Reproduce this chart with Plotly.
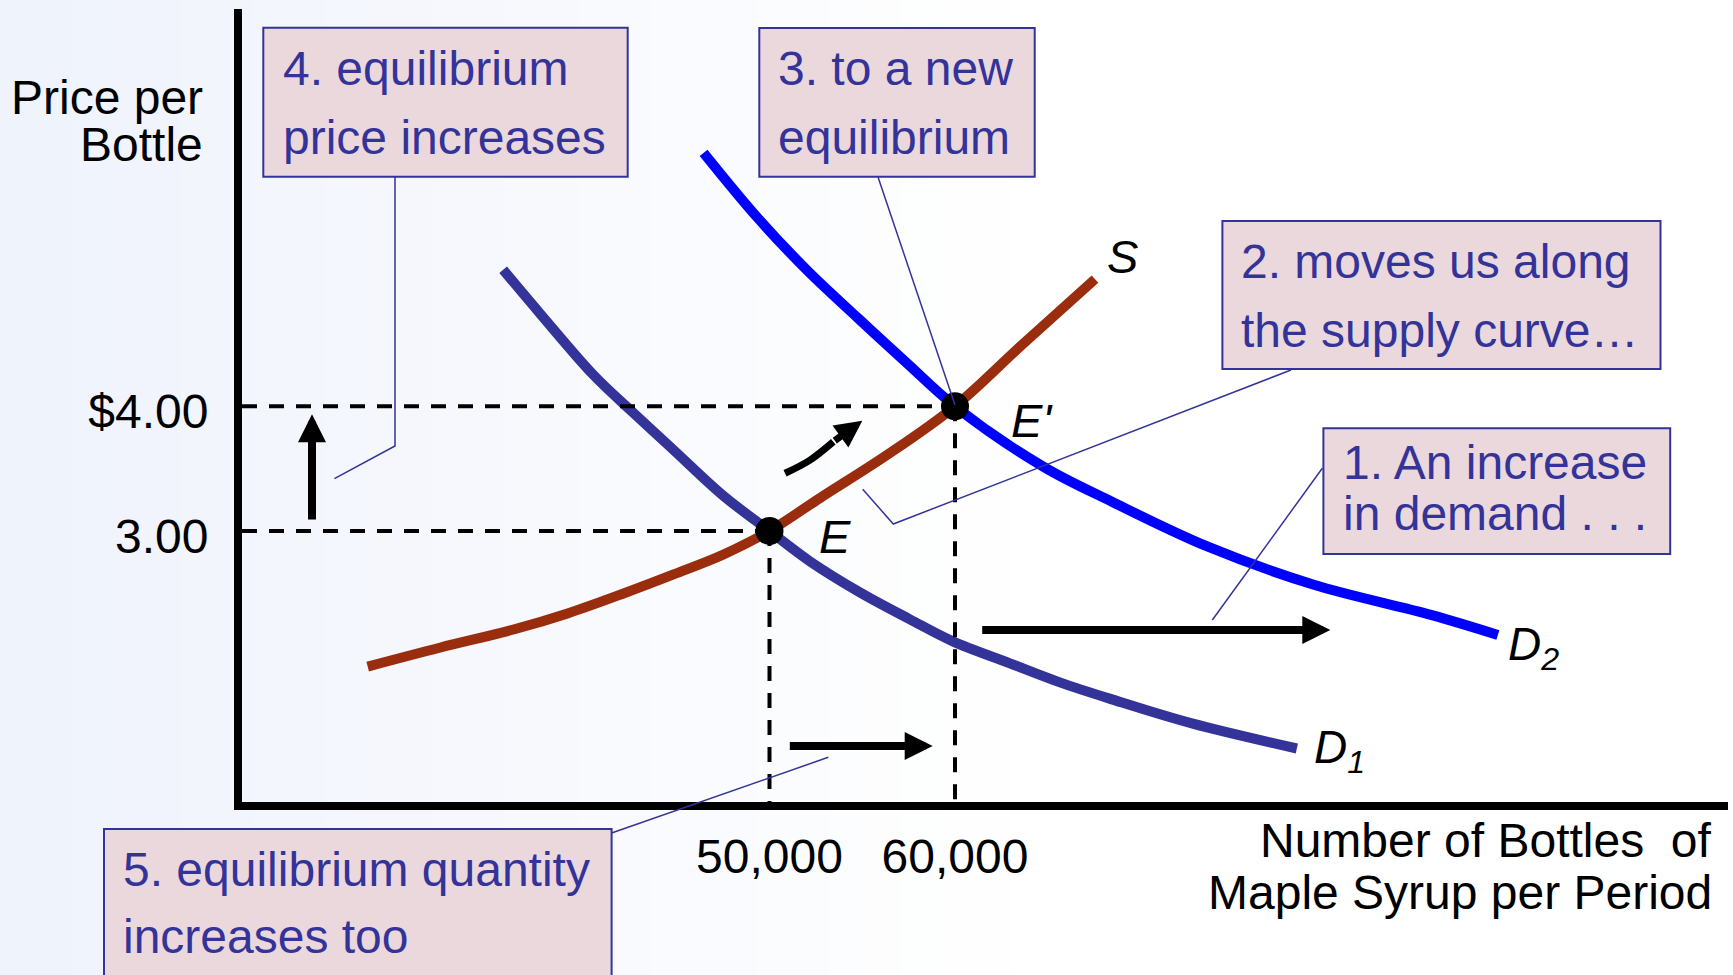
import plotly.graph_objects as go

FONT = "Liberation Sans, Arial, sans-serif"
NAVY = "#333399"

# ---- data: quantity (bottles per period) and price ($ per bottle) ----
s_qty = [28338, 32264, 36199, 39110, 42129, 44825, 47520, 50000, 52728, 56340, 60000, 63654, 67548]
s_price = [1.913, 2.066, 2.210, 2.339, 2.499, 2.652, 2.812, 3.000, 3.265, 3.610, 4.000, 4.499, 5.020]

d1_qty = [35641, 37636, 40493, 42649, 44806, 47502, 50000, 52177, 54872, 57568,
          59886, 62958, 65653, 68457, 72770, 78430]
d1_price = [5.095, 4.743, 4.254, 3.949, 3.653, 3.284, 3.000, 2.757, 2.508, 2.292,
            2.115, 1.939, 1.786, 1.650, 1.457, 1.256]

d2_qty = [46446, 49357, 52052, 54748, 57443, 60000, 64756, 68457, 73633, 79347, 85655, 89267]
d2_price = [6.033, 5.512, 5.087, 4.710, 4.341, 4.000, 3.516, 3.235, 2.874, 2.569, 2.328, 2.167]

eq_qty = [50000, 60000]
eq_price = [3.00, 4.00]
eq_names = ["E", "E'"]

qty_ticks = [50000, 60000]
qty_tick_text = ["50,000", "60,000"]
price_ticks = [3.00, 4.00]
price_tick_text = ["3.00", "$4.00"]

# straight shift arrows: (tail qty, tail price, tip qty, tip price)
arrows = [
    (25336, 3.080, 25336, 3.936),   # price rises
    (61386, 2.206, 80233, 2.206),   # demand shifts right
    (51014, 1.276, 58798, 1.276),   # quantity rises
]
# curved arrow moving along the supply curve
along_qty = [50836, 52183, 53439, 55003]
along_price = [3.463, 3.569, 3.716, 3.885]

callouts = [
    ["1. An increase", "in demand . . ."],
    ["2. moves us along", "the supply curve\u2026"],
    ["3. to a new", "equilibrium"],
    ["4. equilibrium", "price increases"],
    ["5. equilibrium quantity", "increases too"],
]

X_RANGE = [21562, 101673]
Y_RANGE = [0.827, 7.186]

# ---- page geometry (pixels) ----
W, H = 1733, 975
ML, MR, MT, MB = 242, 5, 9, 173


def px(x):
    return (x - ML) / (W - ML - MR)


def py(y):
    return (H - MB - y) / (H - MT - MB)


fig = go.Figure()

# curves
for q, p, col in [(s_qty, s_price, "#992d0e"), (d1_qty, d1_price, NAVY), (d2_qty, d2_price, "#0000ff")]:
    fig.add_trace(go.Scatter(x=q, y=p, mode="lines", hoverinfo="skip",
                             line=dict(color=col, width=10, shape="spline", smoothing=1)))

# dashed guides to the axes
for q, p in zip(eq_qty, eq_price):
    fig.add_trace(go.Scatter(x=[X_RANGE[0], q], y=[p, p], mode="lines", hoverinfo="skip",
                             line=dict(color="black", width=4, dash="15px,12px")))
    fig.add_trace(go.Scatter(x=[q, q], y=[p, Y_RANGE[0]], mode="lines", hoverinfo="skip",
                             line=dict(color="black", width=4, dash="15px,12px")))

# curved shaft of the arrow along the supply curve
fig.add_trace(go.Scatter(x=along_qty[:3], y=along_price[:3], mode="lines", hoverinfo="skip",
                         line=dict(color="black", width=7, shape="spline", smoothing=1)))

# equilibrium points
fig.add_trace(go.Scatter(x=eq_qty, y=eq_price, mode="markers", hoverinfo="skip",
                         marker=dict(color="black", size=28)))

annotations = []

# point and curve labels
lab = dict(xref="x", yref="y", showarrow=False, xanchor="left",
           font=dict(size=47, family=FONT, color="black"))
annotations.append(dict(lab, x=eq_qty[0], y=eq_price[0], text="<i>%s</i>" % eq_names[0],
                        yanchor="middle", xshift=47, yshift=-5))
annotations.append(dict(lab, x=eq_qty[1], y=eq_price[1], text="<i>%s</i>" % eq_names[1],
                        yanchor="middle", xshift=54, yshift=-14))
annotations.append(dict(lab, x=s_qty[-1], y=s_price[-1], text="<i>S</i>",
                        yanchor="middle", xshift=10, yshift=23))
annotations.append(dict(lab, x=d1_qty[-1], y=d1_price[-1], text="<i>D<sub>1</sub></i>",
                        yanchor="top", xshift=15, yshift=30, font=dict(size=46, family=FONT, color="black")))
annotations.append(dict(lab, x=d2_qty[-1], y=d2_price[-1], text="<i>D<sub>2</sub></i>",
                        yanchor="top", xshift=8, yshift=19, font=dict(size=46, family=FONT, color="black")))

# arrows
for q0, p0, q1, p1 in arrows:
    annotations.append(dict(x=q1, y=p1, ax=q0, ay=p0, xref="x", yref="y", axref="x", ayref="y",
                            text="", showarrow=True, arrowhead=2, arrowwidth=8,
                            arrowsize=5.6 / 8, arrowcolor="black"))
annotations.append(dict(x=along_qty[3], y=along_price[3], ax=along_qty[2], ay=along_price[2],
                        xref="x", yref="y", axref="x", ayref="y", text="", showarrow=True,
                        arrowhead=2, arrowwidth=7, arrowsize=5.4 / 7, arrowcolor="black"))

# axis titles
for txt, y in [("Price per", 97.5), ("Bottle", 144)]:
    annotations.append(dict(xref="paper", yref="paper", x=px(205), y=py(y), text=txt,
                            showarrow=False, xanchor="right", yanchor="middle",
                            font=dict(size=48, family=FONT, color="black")))
for txt, y in [("Number of Bottles\u00a0 of", 840.5), ("Maple Syrup per Period", 892.5)]:
    annotations.append(dict(xref="paper", yref="paper", x=px(1714), y=py(y), text=txt,
                            showarrow=False, xanchor="right", yanchor="middle",
                            font=dict(size=48, family=FONT, color="black")))

# callout boxes: rect (x0, y0, x1, y1), text left, line centres, leader path
boxes = [
    ((1323.4, 428.3, 1670.2, 554.0), 1343.6, (462.2, 513.2), [(1322.3, 468.3), (1212.3, 620)]),
    ((1222.4, 221.0, 1660.5, 369.0), 1241.5, (261.5, 330.5), [(1291, 370), (893.3, 524), (862.7, 489.3)]),
    ((759.3, 27.9, 1034.7, 176.8), 779.0, (68.2, 137.2), [(878, 177), (955, 405)]),
    ((263.3, 27.7, 627.7, 176.7), 284.0, (68.2, 137.2), [(395, 176.7), (395, 446), (334.4, 478.6)]),
    ((104.0, 829.0, 611.6, 1000.0), 124.0, (869.2, 936.5), [(611.6, 833), (828.3, 757.3)]),
]

shapes = []

# background gradient, light blue on the left fading to white
n = 48
for i in range(n):
    x0 = W * i / n
    x1 = W * (i + 1) / n
    t = min((x0 + x1) / 2 / 1000, 1)
    col = "rgb(%d,%d,%d)" % (239 + 16 * t, 243 + 12 * t, 252 + 3 * t)
    shapes.append(dict(type="rect", xref="paper", yref="paper", x0=px(x0), x1=px(x1) + 0.001,
                       y0=py(H), y1=py(0), fillcolor=col, line=dict(width=0), layer="below"))

for (rx0, ry0, rx1, ry1), tx, ys, lead in boxes:
    path = "M " + " L ".join("%.5f,%.5f" % (px(a), py(b)) for a, b in lead)
    shapes.append(dict(type="path", xref="paper", yref="paper", path=path,
                       line=dict(color=NAVY, width=1.5), layer="above"))
    shapes.append(dict(type="rect", xref="paper", yref="paper", x0=px(rx0), x1=px(rx1),
                       y0=py(ry1), y1=py(ry0), fillcolor="#ead8dc",
                       line=dict(color=NAVY, width=2), layer="above"))

for ((rx0, ry0, rx1, ry1), tx, ys, lead), lines in zip(boxes, callouts):
    for txt, y in zip(lines, ys):
        annotations.append(dict(xref="paper", yref="paper", x=px(tx - 3), y=py(y), text=txt,
                                showarrow=False, xanchor="left", yanchor="middle",
                                font=dict(size=48, family=FONT, color=NAVY)))

fig.update_layout(
    width=W, height=H,
    margin=dict(l=ML, r=MR, t=MT, b=MB, pad=0),
    paper_bgcolor="white",
    plot_bgcolor="rgba(0,0,0,0)",
    showlegend=False,
    font=dict(family=FONT, color="black"),
    shapes=shapes,
    annotations=annotations,
    xaxis=dict(range=X_RANGE, showline=True, linewidth=8, linecolor="black", showgrid=False,
               zeroline=False, tickvals=qty_ticks, ticktext=qty_tick_text, ticks="",
               tickfont=dict(size=48, family=FONT, color="black"), ticklabelstandoff=5),
    yaxis=dict(range=Y_RANGE, showline=True, linewidth=8, linecolor="black", showgrid=False,
               zeroline=False, tickvals=price_ticks, ticktext=price_tick_text, ticks="",
               tickfont=dict(size=48, family=FONT, color="black"), ticklabelstandoff=16,
               ticklabelshift=5),
)

fig.write_html("out.html", config={"displayModeBar": False},
               post_script="document.body.style.margin = '0px';")
